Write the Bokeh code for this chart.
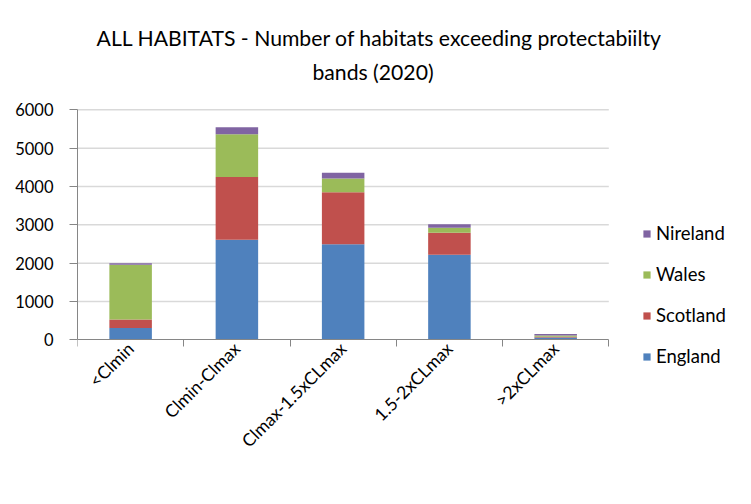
import math
from bokeh.plotting import figure
from bokeh.models import (Range1d, FixedTicker, Legend, LegendItem, Label, LinearAxis,
                          ColumnDataSource)
from bokeh.embed import file_html
from bokeh.resources import INLINE

# ---- data ----
categories = ["<Clmin", "Clmin-Clmax", "Clmax-1.5xCLmax", "1.5-2xCLmax", ">2xCLmax"]
england = [310, 2610, 2490, 2220, 60]
scotland = [220, 1640, 1360, 570, 20]
wales = [1425, 1110, 357, 130, 35]
nireland = [40, 185, 150, 95, 35]
series = ["England", "Scotland", "Wales", "Nireland"]
colors = ["#4F81BD", "#C0504D", "#9BBB59", "#8064A2"]
y_ticks = [0, 1000, 2000, 3000, 4000, 5000, 6000]
title_lines = ["ALL HABITATS - Number of habitats exceeding protectabiilty", "bands (2020)"]

FONT = "Lato"

# ---- layout geometry (pixels) ----
W, H = 751, 504
LEFT, BOTTOM = 77, 129          # borders left/bottom of the plot frame (frame spans to top/right edges)
AXIS_W = 531.3                  # width used by the five categories
Y0_PX, YMAX_PX = 339.3, 109.3   # canvas rows of value 0 and of the top tick
Y_MAX = y_ticks[-1]
frame_w = W - LEFT
frame_h = H - BOTTOM
n = len(categories)
px_cat = AXIS_W / n
px_val = (Y0_PX - YMAX_PX) / Y_MAX
x_end = frame_w / px_cat
y_start = -(frame_h - Y0_PX) / px_val
y_end = Y0_PX / px_val

xs = [i + 0.5 for i in range(n)]
source = ColumnDataSource(dict(x=xs, England=england, Scotland=scotland, Wales=wales, Nireland=nireland))

p = figure(width=W, height=H, x_range=Range1d(0, x_end), y_range=Range1d(y_start, y_end),
           output_backend="svg", toolbar_location=None, title_location=None,
           min_border_left=LEFT, min_border_right=0, min_border_top=0, min_border_bottom=BOTTOM)
p.outline_line_color = None
p.background_fill_color = "white"
p.border_fill_color = "white"
p.xgrid.visible = False
p.ygrid.visible = False

# horizontal gridlines spanning the category area only
grid_src = ColumnDataSource(dict(y=y_ticks[1:], x0=[0] * (len(y_ticks) - 1), x1=[n] * (len(y_ticks) - 1)))
p.segment(x0="x0", x1="x1", y0="y", y1="y", source=grid_src, line_color="#d9d9d9",
          line_width=1.5, level="underlay")

renderers = p.vbar_stack(series, x="x", width=0.4, color=colors, source=source, line_color=None)

# legend (reverse order like the reference)
items = [LegendItem(label=s, renderers=[r]) for s, r in zip(series, renderers)][::-1]
legend = Legend(items=items, location=(565, 8), orientation="vertical",
                glyph_width=9, glyph_height=9, label_height=22, spacing=19,
                padding=0, margin=0, border_line_alpha=0, background_fill_alpha=0,
                label_text_font=FONT, label_text_font_size="18.5px", label_standoff=5,
                label_text_color="#000000")
p.add_layout(legend)

# category labels (axis below the frame, labels only)
xa = p.xaxis[0]
xa.ticker = FixedTicker(ticks=xs, minor_ticks=[])
xa.major_label_overrides = {x: c for x, c in zip(xs, categories)}
xa.axis_line_color = None
xa.major_tick_line_color = None
xa.minor_tick_line_color = None
xa.major_tick_out = 0
xa.major_tick_in = 0
xa.major_label_orientation = math.pi / 4
xa.major_label_standoff = -30
xa.major_label_text_font = FONT
xa.major_label_text_font_size = "17.5px"
xa.major_label_text_color = "#000000"

# axis line with category boundary ticks at value 0
xline = LinearAxis(fixed_location=0, bounds=(0, n),
                   ticker=FixedTicker(ticks=[], minor_ticks=list(range(n + 1))),
                   axis_line_color="#868686", minor_tick_line_color="#868686",
                   minor_tick_out=7, minor_tick_in=0, major_tick_out=0, major_tick_in=0,
                   major_label_text_font_size="0px", major_label_standoff=0)
p.add_layout(xline, "below")

# y axis
ya = p.yaxis[0]
ya.bounds = (0, Y_MAX)
ya.ticker = FixedTicker(ticks=y_ticks, minor_ticks=[])
ya.major_tick_out = 8
ya.major_tick_in = 0
ya.major_tick_line_color = "#868686"
ya.axis_line_color = "#868686"
ya.major_label_standoff = 16
ya.major_label_text_font = FONT
ya.major_label_text_font_size = "16.5px"
ya.major_label_text_color = "#000000"

# title (two centred lines), positions in screen px from the frame's bottom-left
for txt, cx, cy in [(title_lines[0], 379, 37), (title_lines[1], 372.5, 71)]:
    p.add_layout(Label(x=cx - LEFT, y=frame_h - cy, x_units="screen", y_units="screen", text=txt,
                       text_align="center", text_baseline="middle", text_font=FONT,
                       text_font_size="21.2px", text_color="#000000"))

open("out.html", "w").write(file_html(p, INLINE))
